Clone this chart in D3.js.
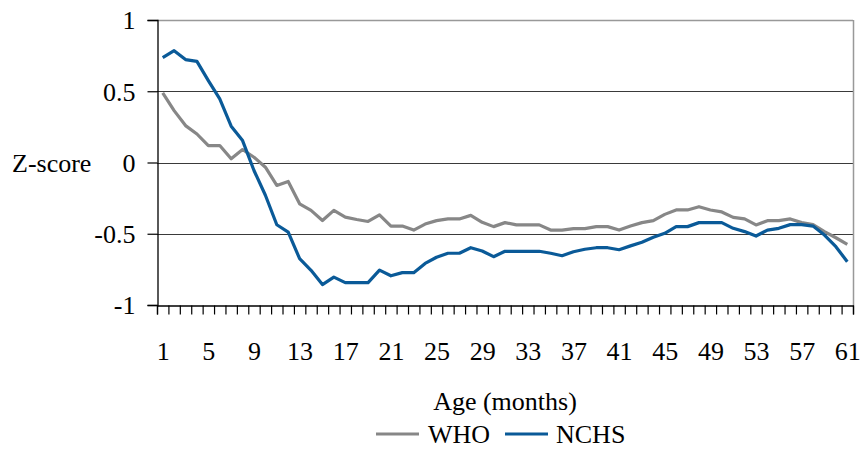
<!DOCTYPE html>
<html>
<head>
<meta charset="utf-8">
<script src="https://cdn.jsdelivr.net/npm/d3@7"></script>
<style>
  html, body { margin: 0; padding: 0; background: #fff; }
  svg { display: block; }
</style>
</head>
<body>
<svg id="chart" width="863" height="465"></svg>
<script>
// ---- data ----
const ages = d3.range(1, 62); // months 1..61
const xTickLabels = [1, 5, 9, 13, 17, 21, 25, 29, 33, 37, 41, 45, 49, 53, 57, 61];
const yTickValues = [1, 0.5, 0, -0.5, -1];
const seriesNames = ["WHO", "NCHS"];
const whoValues = [
  0.488, 0.364, 0.259, 0.2, 0.119, 0.119, 0.026, 0.091, 0.037, -0.033,
  -0.161, -0.133, -0.29, -0.336, -0.407, -0.336, -0.383, -0.4, -0.414, -0.367,
  -0.446, -0.446, -0.474, -0.432, -0.408, -0.396, -0.396, -0.371, -0.42, -0.45,
  -0.422, -0.438, -0.438, -0.438, -0.474, -0.474, -0.464, -0.464, -0.45, -0.45,
  -0.474, -0.446, -0.422, -0.408, -0.364, -0.333, -0.333, -0.31, -0.333, -0.347,
  -0.385, -0.396, -0.438, -0.408, -0.408, -0.396, -0.422, -0.436, -0.485, -0.528, -0.574
];
const nchsValues = [
  0.736, 0.785, 0.722, 0.710, 0.575, 0.446, 0.255, 0.154, -0.056, -0.23,
  -0.437, -0.488, -0.675, -0.757, -0.857, -0.804, -0.843, -0.843, -0.843, -0.755,
  -0.795, -0.773, -0.773, -0.708, -0.665, -0.637, -0.637, -0.598, -0.621, -0.661,
  -0.623, -0.623, -0.623, -0.623, -0.637, -0.654, -0.626, -0.609, -0.598, -0.598,
  -0.612, -0.585, -0.56, -0.525, -0.497, -0.45, -0.45, -0.422, -0.422, -0.422,
  -0.462, -0.485, -0.516, -0.474, -0.462, -0.436, -0.436, -0.446, -0.509, -0.591, -0.696
];
const seriesColors = ["#878787", "#0a5a98"];

// ---- layout ----
const FONT = '"Liberation Serif"';
const FS = "26px";
const svg = d3.select("#chart");
const plotLeft = 157, plotRight = 853, plotTop = 20, plotBottom = 305;

const x = d3.scaleLinear().domain([0.5, 61.5]).range([plotLeft, plotRight]);
const y = d3.scaleLinear().domain([-1, 1]).range([plotBottom, plotTop]);

function styleText(sel) {
  sel.style("font-family", FONT).style("font-size", FS).attr("fill", "#000");
}

// gridlines
svg.append("g").selectAll("line")
  .data(yTickValues.filter(v => v !== -1))
  .join("line")
  .attr("x1", plotLeft).attr("x2", plotRight)
  .attr("y1", d => Math.round(y(d)) + 0.5).attr("y2", d => Math.round(y(d)) + 0.5)
  .attr("stroke", d => d === 1 ? "#999" : "#3a3a3a")
  .attr("stroke-width", d => d === 1 ? 1.5 : 1.2);

// right border
svg.append("line")
  .attr("x1", plotRight + 0.5).attr("x2", plotRight + 0.5)
  .attr("y1", plotTop).attr("y2", plotBottom)
  .attr("stroke", "#999").attr("stroke-width", 1.5);

// y axis
const yAxis = d3.axisLeft(y).tickValues(yTickValues).tickSize(10).tickPadding(12)
  .tickFormat(d => String(d));
const gy = svg.append("g").attr("transform", `translate(${plotLeft + 0.5},0)`).call(yAxis);
gy.select(".domain").attr("stroke", "#000").attr("stroke-width", 1.3);
gy.selectAll(".tick line").attr("stroke", "#000").attr("stroke-width", 1.2);
gy.selectAll(".tick text").call(styleText).attr("dy", "0.34em");

// x axis tick marks at category boundaries
const xTicksAxis = d3.axisBottom(x).tickValues(d3.range(0.5, 62, 1)).tickSize(9).tickFormat("");
const gxt = svg.append("g").attr("transform", `translate(0,${plotBottom + 0.5})`).call(xTicksAxis);
gxt.select(".domain").attr("stroke", "#000").attr("stroke-width", 1.3);
gxt.selectAll(".tick line").attr("stroke", "#000").attr("stroke-width", 1.2);

// x axis labels
const xLabelAxis = d3.axisBottom(x).tickValues(xTickLabels).tickSize(0).tickPadding(37);
const gxl = svg.append("g").attr("transform", `translate(0,${plotBottom})`).call(xLabelAxis);
gxl.select(".domain").remove();
gxl.selectAll(".tick text").call(styleText);

// series lines
const line = d3.line().x((d, i) => x(ages[i])).y(d => y(d));
[whoValues, nchsValues].forEach((vals, k) => {
  svg.append("path")
    .datum(vals)
    .attr("fill", "none")
    .attr("stroke", seriesColors[k])
    .attr("stroke-width", 3.2)
    .attr("stroke-linejoin", "round")
    .attr("d", line);
});

// axis titles
svg.append("text").attr("x", 12).attr("y", y(0) + 9).call(styleText).text("Z-score");
svg.append("text").attr("x", (plotLeft + plotRight) / 2).attr("y", 410)
  .attr("text-anchor", "middle").call(styleText).text("Age (months)");

// legend
const legendItems = [
  { name: seriesNames[0], color: seriesColors[0], x1: 376, x2: 419, tx: 428 },
  { name: seriesNames[1], color: seriesColors[1], x1: 505, x2: 548, tx: 556 }
];
const lg = svg.append("g");
legendItems.forEach(it => {
  lg.append("line").attr("x1", it.x1).attr("x2", it.x2).attr("y1", 434).attr("y2", 434)
    .attr("stroke", it.color).attr("stroke-width", 3.2);
  lg.append("text").attr("x", it.tx).attr("y", 443).call(styleText).text(it.name);
});
</script>
</body>
</html>
